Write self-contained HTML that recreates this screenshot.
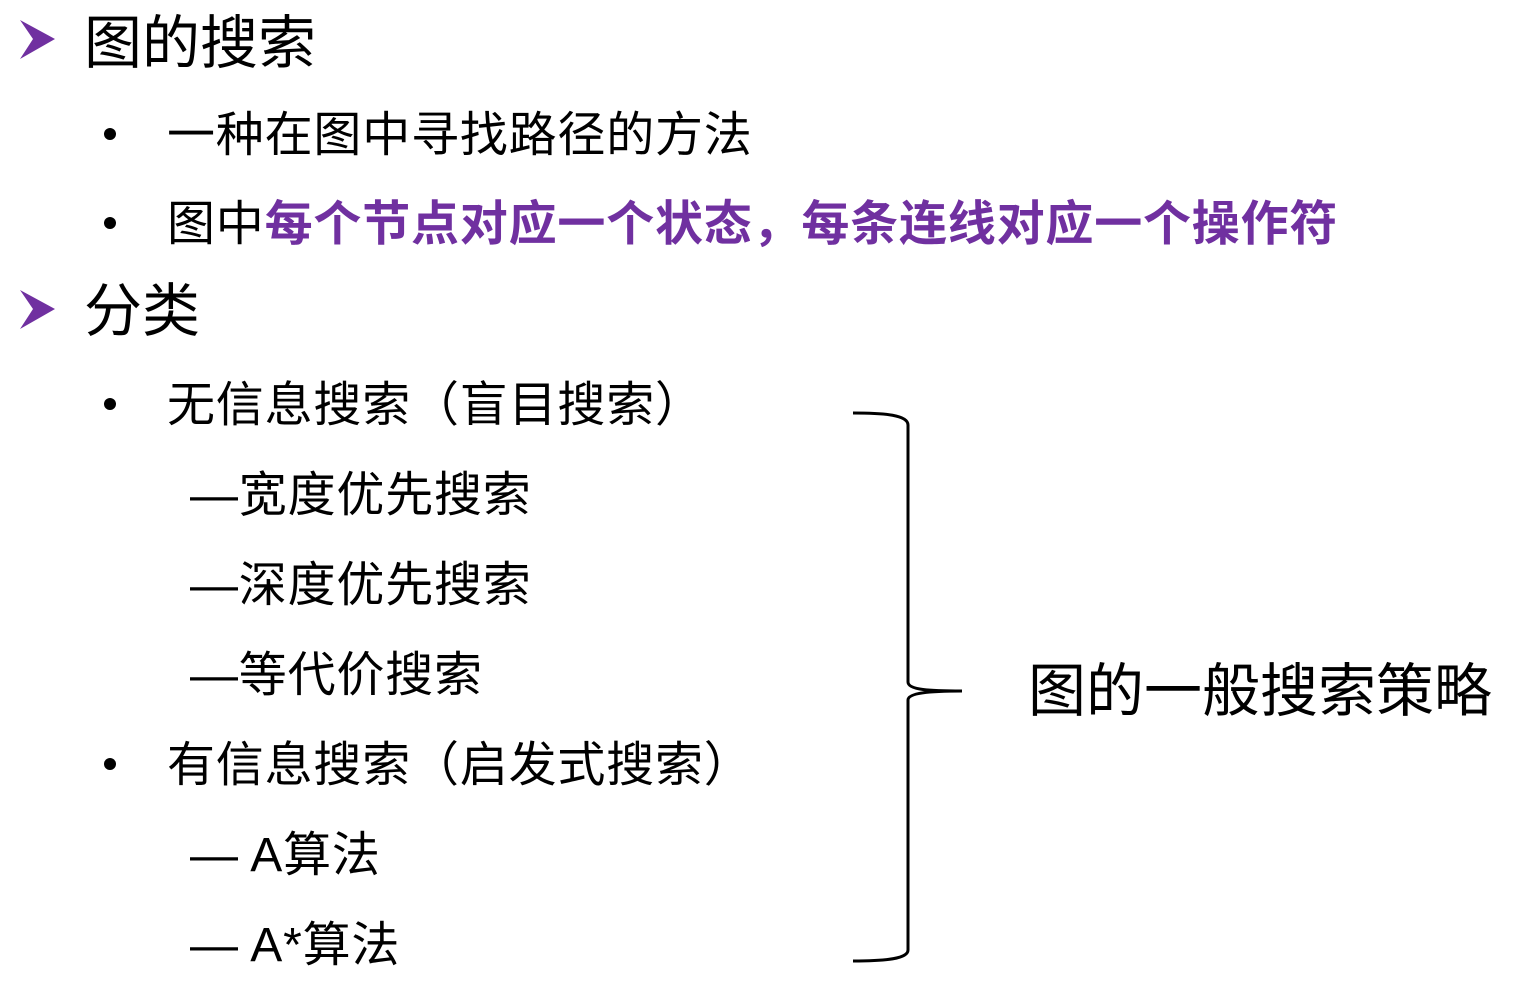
<!DOCTYPE html>
<html><head><meta charset="utf-8"><style>
body{margin:0;width:1513px;height:984px;background:#fff;position:relative;overflow:hidden;font-family:"Liberation Sans","Noto Sans CJK SC",sans-serif;color:#000}
.t{position:absolute;white-space:nowrap}
.h{font-size:58px;line-height:58px}
.n{font-size:48px;line-height:48px;letter-spacing:0.8px}
.p{color:#7030a0;font-weight:bold}
.d{position:absolute;width:12px;height:12px;border-radius:50%;background:#000}
</style></head><body>
<svg width="1513" height="984" style="position:absolute;left:0;top:0">
<polygon points="20,20 55,39 20,59 33,39" fill="#7030a0"/>
<polygon points="20,290 55,309 20,329 33,309" fill="#7030a0"/>
<path d="M853,413 C885,413 908,415 908,425 L908,682 C908,690 930,691 962,691 C930,691 908,693 908,700 L908,950 C908,959 885,961 853,961" fill="none" stroke="#000" stroke-width="3"/>
</svg>
<div class="t h" style="left:84px;top:15px">图的搜索</div>
<div class="d" style="left:104px;top:128px"></div>
<div class="t n" style="left:167px;top:112px">一种在图中寻找路径的方法</div>
<div class="d" style="left:104px;top:217px"></div>
<div class="t n" style="left:167px;top:201px">图中<span class="p">每个节点对应一个状态，每条连线对应一个操作符</span></div>
<div class="t h" style="left:84px;top:283px">分类</div>
<div class="d" style="left:104px;top:398px"></div>
<div class="t n" style="left:167px;top:382px">无信息搜索（盲目搜索）</div>
<div class="t n" style="left:190px;top:472px">—宽度优先搜索</div>
<div class="t n" style="left:190px;top:562px">—深度优先搜索</div>
<div class="t n" style="left:190px;top:652px">—等代价搜索</div>
<div class="d" style="left:104px;top:758px"></div>
<div class="t n" style="left:167px;top:742px">有信息搜索（启发式搜索）</div>
<div class="t n" style="left:190px;top:832px">— A算法</div>
<div class="t n" style="left:190px;top:922px">— A*算法</div>
<div class="t h" style="left:1028px;top:663px">图的一般搜索策略</div>
</body></html>
